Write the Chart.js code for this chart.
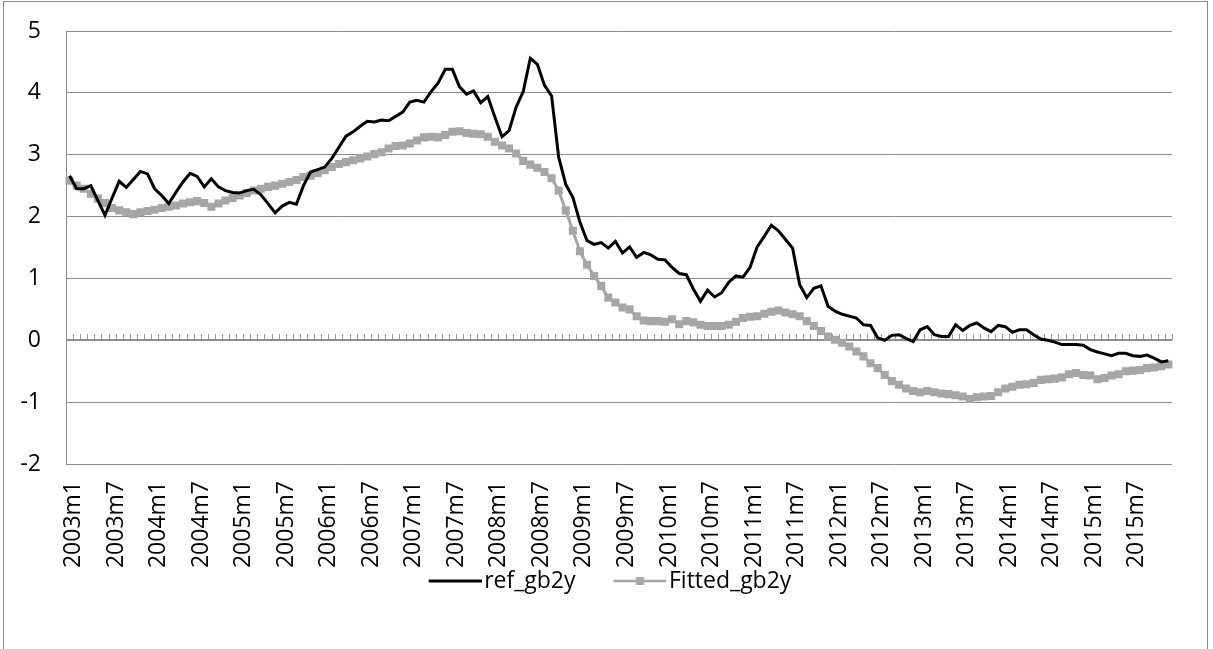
<!DOCTYPE html>
<html><head><meta charset="utf-8">
<script src="https://cdn.jsdelivr.net/npm/chart.js@4.4.1/dist/chart.umd.min.js"></script>
<style>html,body{margin:0;padding:0;background:#fff;}canvas{display:block;}</style>
</head><body>
<canvas id="c" width="1213" height="649"></canvas>
<script>
// ---- data ----
const years = [2003,2004,2005,2006,2007,2008,2009,2010,2011,2012,2013,2014,2015];
const categories = [];
years.forEach(yr => { for (let m = 1; m <= 12; m++) categories.push(yr + 'm' + m); });

const refGb2y = [
  2.66,2.45,2.45,2.50,2.26,2.02,2.30,2.57,2.47,2.60,2.73,2.69,
  2.45,2.34,2.21,2.39,2.56,2.70,2.65,2.48,2.61,2.48,2.42,2.39,
  2.38,2.42,2.44,2.35,2.21,2.06,2.17,2.23,2.20,2.50,2.72,2.76,
  2.80,2.94,3.12,3.30,3.37,3.46,3.54,3.53,3.56,3.55,3.62,3.69,
  3.85,3.88,3.85,4.02,4.16,4.38,4.38,4.10,3.98,4.03,3.84,3.94,
  3.61,3.29,3.39,3.77,4.02,4.56,4.46,4.12,3.95,2.96,2.52,2.31,
  1.91,1.61,1.55,1.58,1.49,1.60,1.41,1.51,1.34,1.42,1.38,1.31,
  1.30,1.18,1.08,1.06,0.83,0.63,0.81,0.70,0.77,0.94,1.04,1.02,
  1.18,1.51,1.68,1.86,1.77,1.63,1.49,0.90,0.69,0.84,0.88,0.55,
  0.47,0.42,0.39,0.36,0.25,0.24,0.04,0.00,0.08,0.09,0.03,-0.02,
  0.17,0.22,0.09,0.06,0.06,0.25,0.16,0.24,0.28,0.20,0.14,0.24,
  0.22,0.13,0.17,0.17,0.09,0.02,0.00,-0.03,-0.07,-0.07,-0.07,-0.08,
  -0.15,-0.19,-0.22,-0.25,-0.21,-0.21,-0.25,-0.26,-0.24,-0.29,-0.35,-0.33
];
const fittedGb2y = [
  2.58,2.50,2.45,2.37,2.29,2.22,2.14,2.10,2.07,2.04,2.07,2.09,
  2.11,2.14,2.16,2.18,2.21,2.23,2.25,2.22,2.16,2.21,2.26,2.30,
  2.34,2.38,2.42,2.45,2.48,2.50,2.53,2.56,2.59,2.64,2.66,2.70,
  2.75,2.80,2.85,2.88,2.91,2.94,2.97,3.01,3.04,3.10,3.14,3.15,
  3.18,3.23,3.28,3.29,3.28,3.32,3.37,3.38,3.35,3.34,3.33,3.29,
  3.21,3.15,3.10,3.02,2.90,2.84,2.79,2.72,2.62,2.42,2.10,1.77,
  1.44,1.22,1.04,0.88,0.69,0.61,0.53,0.50,0.39,0.32,0.31,0.31,
  0.30,0.34,0.26,0.31,0.29,0.25,0.23,0.23,0.23,0.25,0.30,0.36,
  0.38,0.39,0.43,0.46,0.48,0.45,0.42,0.39,0.31,0.23,0.15,0.06,
  0.01,-0.04,-0.10,-0.18,-0.26,-0.37,-0.45,-0.56,-0.66,-0.72,-0.78,-0.82,
  -0.84,-0.82,-0.84,-0.86,-0.87,-0.89,-0.91,-0.95,-0.92,-0.91,-0.90,-0.84,
  -0.78,-0.75,-0.72,-0.71,-0.69,-0.64,-0.63,-0.62,-0.60,-0.55,-0.53,-0.56,
  -0.57,-0.63,-0.61,-0.57,-0.55,-0.50,-0.49,-0.48,-0.45,-0.44,-0.42,-0.39
];
const yTicks = [-2,-1,0,1,2,3,4,5];
const seriesNames = ['ref_gb2y','Fitted_gb2y'];

// ---- styling ----
const FONT = "'Open Sans', 'Noto Sans', sans-serif";
const FS = 23;
const GRID = '#8c8c8c';
const GREY = '#a6a6a6';

function legendImg(kind) {
  const c = document.createElement('canvas');
  c.width = 98; c.height = 14;
  const g = c.getContext('2d');
  const y = 7;
  g.beginPath();
  g.moveTo(45, y); g.lineTo(98, y);
  if (kind === 'ref') { g.strokeStyle = '#000'; g.lineWidth = 3; }
  else { g.strokeStyle = GREY; g.lineWidth = 2.5; }
  g.stroke();
  if (kind !== 'ref') {
    g.fillStyle = GREY;
    g.fillRect(71.5 - 4, y - 4, 8, 8);
  }
  return c;
}

const zeroAxis = {
  id: 'zeroAxis',
  beforeDatasetsDraw(chart) {
    const {ctx, scales: {x, y}} = chart;
    const y0 = Math.round(y.getPixelForValue(0));
    const step = x.getPixelForValue(1) - x.getPixelForValue(0);
    ctx.save();
    ctx.strokeStyle = '#9a9a9a';
    ctx.lineWidth = 1;
    ctx.beginPath();
    for (let k = 0; k <= categories.length; k++) {
      const px = Math.round(x.getPixelForValue(k) - step / 2) + 0.5;
      ctx.moveTo(px, y0 - 6);
      ctx.lineTo(px, y0);
    }
    ctx.stroke();
    ctx.strokeStyle = GRID;
    ctx.lineWidth = 2;
    ctx.beginPath();
    ctx.moveTo(chart.chartArea.left, y0);
    ctx.lineTo(chart.chartArea.right, y0);
    ctx.stroke();
    ctx.restore();
  },
  afterDraw(chart) {
    const ctx = chart.ctx;
    ctx.save();
    ctx.strokeStyle = '#8a8a8a';
    ctx.lineWidth = 1;
    ctx.strokeRect(3.5, 1.5, 1204, 700);
    ctx.restore();
  }
};

new Chart(document.getElementById('c'), {
  type: 'line',
  data: {
    labels: categories,
    datasets: [
      {
        label: seriesNames[0], data: refGb2y,
        borderColor: '#000', backgroundColor: '#000', borderWidth: 3,
        pointRadius: 0, pointHoverRadius: 0, tension: 0
      },
      {
        label: seriesNames[1], data: fittedGb2y,
        borderColor: GREY, backgroundColor: GREY, borderWidth: 3,
        pointStyle: 'rect', pointRadius: 5.7, pointBorderWidth: 0,
        pointBackgroundColor: GREY, pointHoverRadius: 5.7, tension: 0
      }
    ]
  },
  options: {
    responsive: false, animation: false, devicePixelRatio: 1,
    layout: { padding: { top: 31, right: 29, bottom: 46.5, left: 0 } },
    plugins: {
      tooltip: { enabled: false },
      legend: {
        position: 'bottom',
        labels: {
          usePointStyle: true, pointStyleWidth: 80, padding: 2,
          color: '#000', font: { family: FONT, size: FS },
          generateLabels(chart) {
            return chart.data.datasets.map((ds, i) => ({
              text: ds.label, datasetIndex: i, hidden: false,
              pointStyle: i === 0 ? legendImg('ref') : legendImg('fit'),
              fillStyle: ds.borderColor, strokeStyle: ds.borderColor, lineWidth: 0,
              fontColor: '#000'
            }));
          }
        }
      }
    },
    scales: {
      x: {
        offset: true,
        grid: { display: false, drawTicks: false },
        border: { display: false },
        afterFit(s) { s.height = 103.5; },
        ticks: {
          autoSkip: false, maxRotation: 90, minRotation: 90, padding: 17, labelOffset: 4,
          color: '#000', font: { family: FONT, size: FS },
          callback(v, i) { return i % 6 === 0 ? categories[i] : ''; }
        }
      },
      y: {
        min: -2, max: 5,
        afterFit(s) { s.width = 66; s.paddingTop = 0; s.paddingBottom = 0; },
        afterBuildTicks(s) { s.ticks = yTicks.map(v => ({ value: v })); },
        grid: { color: GRID, lineWidth: 1, drawTicks: false },
        border: { display: true, color: GRID, width: 1 },
        ticks: { padding: 25, color: '#000', font: { family: FONT, size: FS } }
      }
    }
  },
  plugins: [zeroAxis]
});
</script>
</body></html>
